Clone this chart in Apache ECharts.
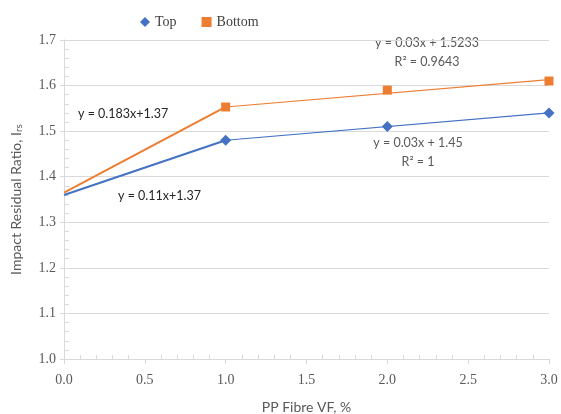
<!DOCTYPE html>
<html><head><meta charset="utf-8">
<script src="https://cdn.jsdelivr.net/npm/echarts@6/dist/echarts.min.js"></script>
<style>html,body{margin:0;padding:0;background:#fff}#c{width:561px;height:414px}</style>
</head><body><div id="c"></div>
<script>
var fibreVF = [1, 2, 3];
var topValues = [1.48, 1.51, 1.54];
var bottomValues = [1.553, 1.59, 1.61];
var topStart = [[0, 1.36], [1, 1.48]];
var bottomStart = [[0, 1.365], [1, 1.553]];
var topTrend = [[1, 1.48], [3, 1.54]];
var bottomTrend = [[1, 1.553], [3, 1.613]];
var yTicks = [1.0, 1.1, 1.2, 1.3, 1.4, 1.5, 1.6, 1.7];
var xTicks = [0.0, 0.5, 1.0, 1.5, 2.0, 2.5, 3.0];

var BLUE = '#4472C4', ORANGE = '#ED7D31';
var chart = echarts.init(document.getElementById('c'), null, {renderer: 'canvas'});
function pts(xs, ys) { return xs.map(function (x, i) { return [x, ys[i]]; }); }
var sans = 'Lato, "Open Sans", sans-serif';
var serif = '"Liberation Serif", serif';
chart.setOption({
  animation: false,
  legend: {
    top: 10, left: 135,
    itemGap: 25, itemWidth: 10, itemHeight: 10,
    textStyle: {fontFamily: serif, fontSize: 14, color: '#404040'},
    data: [{name: 'Top', icon: 'diamond'}, {name: 'Bottom', icon: 'rect'}]
  },
  grid: {left: 64, right: 12, top: 40, bottom: 55, outerBoundsMode: 'none', containLabel: false},
  xAxis: {
    type: 'value', min: xTicks[0], max: xTicks[xTicks.length - 1], interval: 0.5,
    name: 'PP Fibre VF, %', nameLocation: 'middle', nameGap: 41,
    nameTextStyle: {fontFamily: sans, fontSize: 14, color: '#595959'},
    axisLine: {show: true, lineStyle: {color: '#d9d9d9'}},
    axisTick: {show: true, length: 5, lineStyle: {color: '#d9d9d9'}},
    minorTick: {show: true, splitNumber: 5, length: -4, lineStyle: {color: '#d9d9d9'}},
    splitLine: {show: false},
    axisLabel: {fontFamily: serif, fontSize: 14, color: '#595959', margin: 14,
      formatter: function (v) { return v.toFixed(1); }}
  },
  yAxis: {
    type: 'value', min: yTicks[0], max: yTicks[yTicks.length - 1], interval: 0.1,
    name: 'Impact Residual Ratio, I{sub|rs}', nameLocation: 'middle', nameGap: 40,
    nameTextStyle: {fontFamily: sans, fontSize: 14, color: '#595959',
      rich: {sub: {fontFamily: sans, fontSize: 10, color: '#595959', verticalAlign: 'bottom', padding: [6, 0, 0, 0]}}},
    axisLine: {show: true, lineStyle: {color: '#d9d9d9'}},
    axisTick: {show: true, length: 4, lineStyle: {color: '#d9d9d9'}},
    minorTick: {show: true, splitNumber: 5, length: -5, lineStyle: {color: '#d9d9d9'}},
    splitLine: {show: true, lineStyle: {color: '#d9d9d9', width: 1}},
    axisLabel: {fontFamily: serif, fontSize: 14, color: '#595959', margin: 8,
      formatter: function (v) { return v.toFixed(1); }}
  },
  series: [
    {name: 'TopStart', type: 'line', data: topStart, showSymbol: false, symbol: 'none',
      lineStyle: {color: BLUE, width: 2}, z: 2},
    {name: 'BottomStart', type: 'line', data: bottomStart, showSymbol: false, symbol: 'none',
      lineStyle: {color: ORANGE, width: 2}, z: 2},
    {name: 'TopTrend', type: 'line', data: topTrend, symbol: 'none',
      lineStyle: {color: BLUE, width: 1.2}, z: 2},
    {name: 'BottomTrend', type: 'line', data: bottomTrend, symbol: 'none',
      lineStyle: {color: ORANGE, width: 1.2}, z: 2},
    {name: 'Top', type: 'line', data: pts(fibreVF, topValues), symbol: 'diamond', symbolSize: 11,
      itemStyle: {color: BLUE}, lineStyle: {width: 0, opacity: 0}, z: 3},
    {name: 'Bottom', type: 'line', data: pts(fibreVF, bottomValues), symbol: 'rect', symbolSize: 9,
      itemStyle: {color: ORANGE}, lineStyle: {width: 0, opacity: 0}, z: 3}
  ],
  graphic: [
    {type: 'text', left: 78, top: 107, style: {text: 'y = 0.183x+1.37', fontFamily: sans, fontSize: 12.5, fill: '#262626'}},
    {type: 'text', left: 118, top: 189, style: {text: 'y = 0.11x+1.37', fontFamily: sans, fontSize: 12.5, fill: '#262626'}},
    {type: 'text', x: 427, y: 43, style: {text: 'y = 0.03x + 1.5233', align: 'center', verticalAlign: 'middle', fontFamily: sans, fontSize: 12.5, fill: '#595959'}},
    {type: 'text', x: 427, y: 62, style: {text: 'R² = 0.9643', align: 'center', verticalAlign: 'middle', fontFamily: sans, fontSize: 12.5, fill: '#595959'}},
    {type: 'text', x: 418, y: 143, style: {text: 'y = 0.03x + 1.45', align: 'center', verticalAlign: 'middle', fontFamily: sans, fontSize: 12.5, fill: '#595959'}},
    {type: 'text', x: 418, y: 162, style: {text: 'R² = 1', align: 'center', verticalAlign: 'middle', fontFamily: sans, fontSize: 12.5, fill: '#595959'}}
  ]
});
</script></body></html>
